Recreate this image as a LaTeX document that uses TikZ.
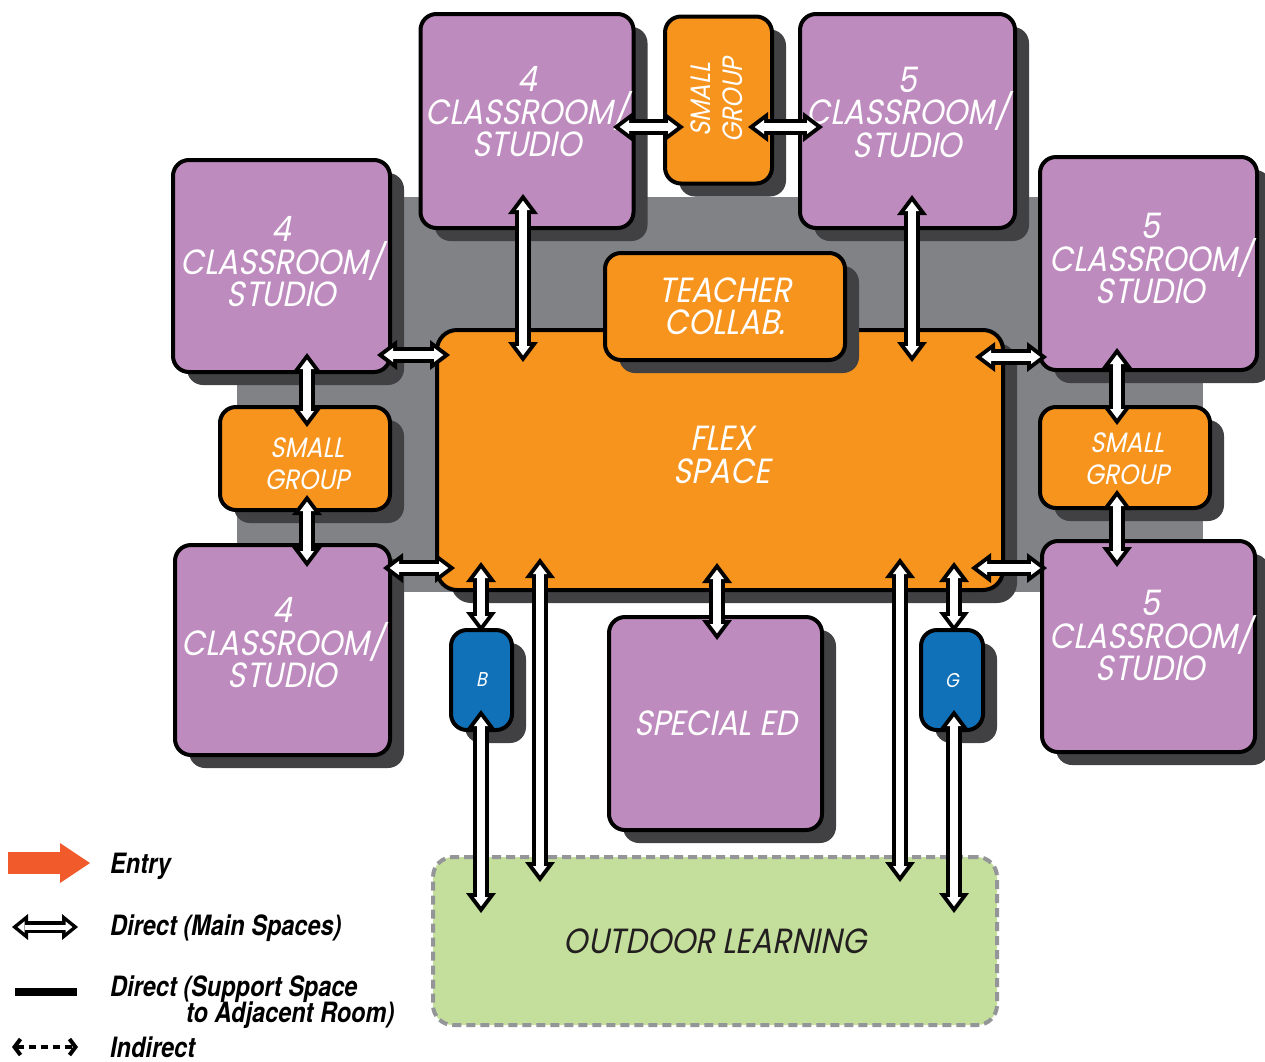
\documentclass[tikz,border=0pt]{standalone}
\usepackage{fontspec}
\usetikzlibrary{arrows.meta,calc,shadows}
\newfontfamily\labfont[FakeStretch=0.88,FakeSlant=0.2]{Poppins}
\newfontfamily\legfont[FakeStretch=0.84]{TeX Gyre Heros}
\definecolor{purp}{HTML}{BE8BBE}
\definecolor{oran}{HTML}{F7941E}
\definecolor{blu}{HTML}{1071B9}
\definecolor{bgg}{HTML}{808285}
\definecolor{shad}{HTML}{414042}
\definecolor{grn}{HTML}{C4DF9B}
\definecolor{dashg}{HTML}{939598}
\definecolor{entr}{HTML}{F15A2B}
\definecolor{dtxt}{HTML}{231F20}
\newcommand\dar[2]{\draw[arrout] #1 -- #2; \draw[arrin] #1 -- #2;}
\newcommand\tightls{\lineskiplimit=-60pt\relax}
\newcommand\bigfont{\labfont\fontsize{35}{32.5}\selectfont\tightls}
\newcommand\sgfont{\labfont\fontsize{28}{31.5}\selectfont\tightls}
\newcommand\wcfont{\labfont\fontsize{20}{20}\selectfont}
\newcommand\legendfont{\legfont\bfseries\itshape\fontsize{28}{26}\selectfont\tightls}
\begin{document}
\begin{tikzpicture}[x=1pt,y=-1pt,
  room/.style={draw=black, line width=4pt, rounded corners=16pt, outer sep=0pt, inner sep=0pt,
    text=white, align=center, font=\bigfont,
    drop shadow={shadow xshift=14pt,shadow yshift=-13pt,fill=shad,opacity=1}},
  clsbox/.style={room, fill=purp},
  orbox/.style={room, fill=oran},
  sgbox/.style={room, fill=oran, font=\sgfont},
  wcbox/.style={room, fill=blu, font=\wcfont},
  lab/.style={text=white, align=center, inner sep=0pt, font=\bigfont},
  arrout/.style={line width=16pt, draw=black,
    {Triangle[length=20pt,width=30pt,line width'=0pt]}-{Triangle[length=20pt,width=30pt,line width'=0pt]}},
  arrin/.style={line width=8pt, draw=white, shorten <=6.7pt, shorten >=6.7pt,
    {Triangle[length=9.3pt,width=14pt,line width'=0pt]}-{Triangle[length=9.3pt,width=14pt,line width'=0pt]}},
  legout/.style={line width=12pt, draw=black,
    {Triangle[length=16pt,width=26pt,line width'=0pt]}-{Triangle[length=16pt,width=26pt,line width'=0pt]}},
  legin/.style={line width=5pt, draw=white, shorten <=5.6pt, shorten >=5.6pt,
    {Triangle[length=6.9pt,width=11.3pt,line width'=0pt]}-{Triangle[length=6.9pt,width=11.3pt,line width'=0pt]}},
  legtxt/.style={inner sep=0pt, anchor=base west, text=black, font=\legendfont},
]
\useasboundingbox (0,0) rectangle (1265,1061);
% gray background
\fill[bgg] (237,197) rectangle (1203,592);
% flex space and teacher collab
\node[orbox, minimum width=566pt, minimum height=260pt, rounded corners=20pt] (flex) at (720,460) {};
\node[lab] (flexlab) at ($(flex.center)+(2,-5)$) {FLEX\\SPACE};
\node[orbox, minimum width=240pt, minimum height=107pt] (tc) at (725,306.5) {TEACHER\\COLLAB.};
% classrooms
\node[clsbox, minimum width=213pt, minimum height=214pt] (c4a) at (527,121) {};
\node[clsbox, minimum width=215pt, minimum height=214pt] (c5a) at (907.5,121) {};
\node[clsbox, minimum width=217pt, minimum height=212pt] (c4b) at (281.5,266) {};
\node[clsbox, minimum width=215pt, minimum height=210pt] (c4c) at (282.5,650) {};
\node[clsbox, minimum width=217pt, minimum height=213pt] (c5b) at (1148.5,263.5) {};
\node[clsbox, minimum width=213pt, minimum height=211pt] (c5c) at (1148.5,646.5) {};
\node[lab] (c4alab) at ($(c4a.center)+(0,-9)$) {4\\CLASSROOM/\\STUDIO};
\node[lab] (c5alab) at ($(c5a.center)+(0,-9)$) {5\\CLASSROOM/\\STUDIO};
\node[lab] (c4blab) at ($(c4b.center)+(0,-4)$) {4\\CLASSROOM/\\STUDIO};
\node[lab] (c4clab) at ($(c4c.center)+(0,-7)$) {4\\CLASSROOM/\\STUDIO};
\node[lab] (c5blab) at ($(c5b.center)+(2,-5)$) {5\\CLASSROOM/\\STUDIO};
\node[lab] (c5clab) at ($(c5c.center)+(2,-11)$) {5\\CLASSROOM/\\STUDIO};
% small groups
\node[sgbox, minimum width=107pt, minimum height=167pt] (sgt) at (718.5,100) {};
\node[text=white, align=center, inner sep=0pt, rotate=90, font=\sgfont] (sgtlab) at ($(sgt.center)+(-2,0)$) {SMALL\\GROUP};
\node[sgbox, minimum width=170pt, minimum height=103pt] (sgl) at (305,458.5) {};
\node[sgbox, minimum width=170pt, minimum height=101pt] (sgr) at (1125,457.5) {};
\node[lab, font=\sgfont] (sgllab) at ($(sgl.center)+(2,5)$) {SMALL\\GROUP};
\node[lab, font=\sgfont] (sgrlab) at ($(sgr.center)+(2,1)$) {SMALL\\GROUP};
% toilets and special ed
\node[wcbox, minimum width=61pt, minimum height=100pt] (bb) at (481.5,680) {B};
\node[wcbox, minimum width=62pt, minimum height=100pt] (gg) at (952,680) {G};
\node[clsbox, minimum width=213pt, minimum height=213pt] (sped) at (715.5,723.5) {SPECIAL ED};
% outdoor learning
\node[draw=dashg, fill=grn, line width=4pt, dash pattern=on 9pt off 5pt, rounded corners=20pt,
  minimum width=564pt, minimum height=168pt, outer sep=0pt, inner sep=0pt, text=dtxt,
  font=\bigfont] (out) at (715,941) {OUTDOOR LEARNING};
% connectors
\dar{($(c4a.east)+(-20.5,6)$)}{($(sgt.west)+(19,27)$)}
\dar{($(sgt.east)+(-24,27)$)}{($(c5a.west)+(23,6)$)}
\dar{($(c4a.south)+(-4,-34)$)}{($(flex.north)+(-197,32)$)}
\dar{($(c5a.south)+(4.5,-33)$)}{($(flex.north)+(192,32)$)}
\dar{($(c4b.east)+(-13,89)$)}{($(flex.west)+(13,-105)$)}
\dar{($(c5b.west)+(7,93.5)$)}{($(flex.east)+(-28,-103)$)}
\dar{($(c4b.south)+(25.5,-19)$)}{($(sgl.north)+(2,20)$)}
\dar{($(sgl.south)+(2,-15)$)}{($(c4c.north)+(24.5,22)$)}
\dar{($(c5b.south)+(-31.5,-22)$)}{($(sgr.north)+(-8,18)$)}
\dar{($(sgr.south)+(-8,-18)$)}{($(c5c.north)+(-31.5,26)$)}
\dar{($(c4c.east)+(-7,-82)$)}{($(flex.west)+(18,108)$)}
\dar{($(c5c.west)+(5,-78.5)$)}{($(flex.east)+(-32,108)$)}
\dar{($(flex.south)+(-239,-28)$)}{($(bb.north)+(-0.5,2)$)}
\dar{($(bb.south)+(-0.5,-20)$)}{($(out.north)+(-234,56)$)}
\dar{($(flex.south)+(-180,-32)$)}{($(out.north)+(-175,25)$)}
\dar{($(flex.south)+(-3,-27)$)}{($(sped.north)+(1.5,23)$)}
\dar{($(flex.south)+(180,-32)$)}{($(out.north)+(185,25)$)}
\dar{($(flex.south)+(234,-28)$)}{($(gg.north)+(2,2)$)}
\dar{($(gg.south)+(2,-20)$)}{($(out.north)+(239,56)$)}
% legend
\coordinate (e1) at (8,863); \coordinate (e2) at (90,863);
\draw[line width=22pt, draw=entr, -{Triangle[length=30pt,width=40pt,line width'=0pt]}] (e1) -- (e2);
\coordinate (d1) at (12,927); \coordinate (d2) at (78,927);
\draw[legout] (d1) -- (d2); \draw[legin] (d1) -- (d2);
\coordinate (s1) at (15,992); \coordinate (s2) at (77,992);
\draw[line width=8pt] (s1) -- (s2);
\coordinate (i1) at (12,1047); \coordinate (i2) at (78,1047);
\draw[line width=4pt, dash pattern=on 7pt off 5pt,
  {Straight Barb[length=6pt,width=16pt,line width'=4pt]}-{Straight Barb[length=6pt,width=16pt,line width'=4pt]}] (i1) -- (i2);
\node[legtxt] (l1) at (110,873) {Entry};
\node[legtxt] (l2) at (110,935) {Direct (Main Spaces)};
\node[legtxt, anchor=north west, align=left] (l3) at (110,976) {Direct (Support Space\\\hspace*{76pt}to Adjacent Room)};
\node[legtxt] (l5) at (110,1057) {Indirect};
\end{tikzpicture}
\end{document}
